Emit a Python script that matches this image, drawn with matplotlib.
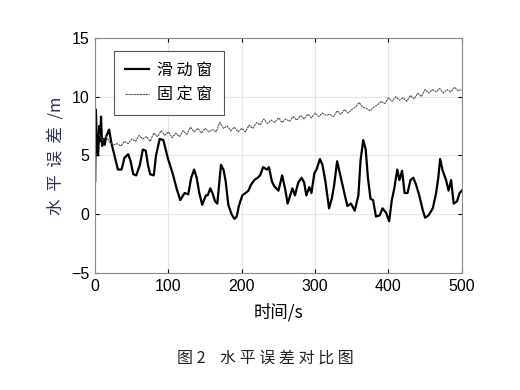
import matplotlib.pyplot as plt
import numpy as np

plt.rcParams['font.family'] = ['Liberation Sans', 'Noto Sans CJK SC', 'DejaVu Sans']

# 滑动窗 (sliding window) error
t_slide = [0, 1, 2.5, 4, 5.5, 7, 8, 9.5, 11, 13, 15, 19, 22, 27, 31, 36, 40, 45, 48, 52,
           56, 61, 65, 69, 72, 75, 80, 83, 88, 93, 99, 106, 111, 116, 122, 127, 131, 135,
           138.5, 142, 146, 151, 153.5, 157, 160, 163.5, 166.6, 171.6, 175, 178, 181.6, 186,
           190, 193, 196, 200.7, 205, 209, 212.5, 217, 221.6, 225, 229, 234, 237, 241, 244,
           250, 255, 259, 262.5, 266, 269, 272.5, 277, 281.6, 285, 288, 292, 295, 299, 302,
           306.5, 310, 314, 319, 323, 326, 330, 334, 337.5, 340.6, 344, 349, 354, 359, 362,
           365.6, 369, 372, 375.6, 379, 383, 388, 392, 397, 401, 404.6, 408, 412, 415, 418.6,
           422, 426, 430, 434, 437.7, 442, 447, 450, 454.6, 460.5, 465, 468, 470.5, 474,
           478.6, 482, 485.5, 489, 493.6, 497, 500]
v_slide = [2.8, 8.9, 5.5, 5.0, 7.5, 6.2, 8.3, 5.8, 6.4, 5.9, 6.6, 7.2, 6.1, 4.8, 3.8, 3.8, 4.8, 5.1, 4.6, 3.4,
           3.3, 4.2, 5.5, 5.4, 4.2, 3.4, 3.3, 5.0, 6.4, 6.3, 4.8, 3.4, 2.2, 1.2, 1.8, 1.7, 3.1, 3.8,
           3.1, 1.8, 0.8, 1.6, 1.6, 2.2, 1.8, 1.1, 0.9, 4.2, 3.8, 2.8, 0.8, 0.0,
           -0.4, -0.2, 0.7, 1.6, 1.8, 2.0, 2.5, 2.9, 3.1, 3.3, 4.0, 3.8, 4.0, 2.8, 2.4,
           2.0, 3.3, 2.2, 0.9, 1.6, 2.2, 1.6, 2.7, 3.1, 2.7, 1.6, 2.3, 1.8, 3.5, 3.8,
           4.7, 4.2, 2.8, 0.5, 1.4, 2.5, 4.5, 3.4, 2.4, 1.6, 0.7, 0.9, 0.3, 1.6, 4.6,
           6.3, 5.5, 3.1, 1.3, 1.2, -0.2, -0.1, 0.5, 0.1, -0.6, 1.2, 2.2, 3.8, 2.9, 3.7,
           1.8, 1.8, 2.9, 3.1, 2.5, 1.6, 0.3, -0.3, -0.1, 0.5, 1.8, 3.1, 4.7, 3.7,
           2.9, 2.0, 2.9, 0.9, 1.1, 1.8, 2.0]

# 固定窗 (fixed window) error, every 5 s from 5 s
t_fixed = np.arange(5, 505, 5)
v_fixed = [6.8, 6.3, 6.6, 6.1, 5.9, 6.0, 5.8, 6.2, 6.0, 6.4,
           6.2, 6.7, 6.4, 6.6, 6.2, 6.9, 6.6, 7.1, 6.7, 7.0,
           6.5, 6.9, 6.6, 7.1, 6.8, 7.4, 7.0, 7.3, 6.9, 7.3,
           7.0, 7.2, 7.0, 7.8, 7.3, 7.5, 7.1, 7.4, 7.0, 7.3,
           7.0, 7.6, 7.3, 7.8, 7.6, 8.1, 7.7, 8.0, 7.8, 8.2,
           7.8, 8.1, 7.9, 8.3, 8.0, 8.4, 8.1, 8.5, 8.2, 8.6,
           8.3, 8.6, 8.4, 8.5, 8.3, 8.8, 8.5, 8.9, 8.6, 8.9,
           9.1, 9.5, 9.1, 9.0, 8.8, 9.1, 9.3, 9.6, 9.4, 9.9,
           9.6, 10.0, 9.7, 9.9, 9.6, 10.1, 9.8, 10.3, 10.0, 10.6,
           10.3, 10.6, 10.4, 10.7, 10.3, 10.6, 10.4, 10.8, 10.5, 10.6]

fig = plt.figure(figsize=(5.2, 3.9), dpi=100)
ax = fig.add_axes([0.183, 0.30, 0.705, 0.603])

ax.plot(t_slide, v_slide, color='black', lw=1.6, label='滑 动 窗', solid_joinstyle='round')
ax.plot(t_fixed, v_fixed, color='#555555', lw=0.8, ls=(0, (2, 0.6)), label='固 定 窗')

ax.set_xlim(0, 500)
ax.set_ylim(-5, 15)
ax.set_xticks([0, 100, 200, 300, 400, 500])
ax.set_yticks([-5, 0, 5, 10, 15])
ax.grid(True, color='#e6e6e6', lw=0.8)
ax.tick_params(direction='in', top=True, right=True, labelsize=11.5, length=3, pad=4)
for s in ax.spines.values():
    s.set_color('#888888')
    s.set_linewidth(0.8)

ax.set_xlabel('时间/s', fontsize=12.5, family=['Noto Sans CJK SC'], labelpad=7)
ax.set_ylabel('水  平  误  差  /m', fontsize=12, family=['Noto Sans CJK SC'],
              color='#2e3350', labelpad=5)

leg = ax.legend(loc='upper left', bbox_to_anchor=(0.03, 0.98),
                prop={'family': ['Noto Sans CJK SC'], 'size': 11.5}, fancybox=False,
                edgecolor='#555555', framealpha=1, handlelength=1.5, handletextpad=0.5,
                borderpad=0.7, labelspacing=0.5)
leg.get_frame().set_linewidth(0.8)

fig.text(0.51, 0.082, '图 2    水 平 误 差 对 比 图', ha='center', va='center', fontsize=11.5,
         family=['Noto Sans CJK SC'], color='#222222')

fig.savefig('out.png', dpi=100)
